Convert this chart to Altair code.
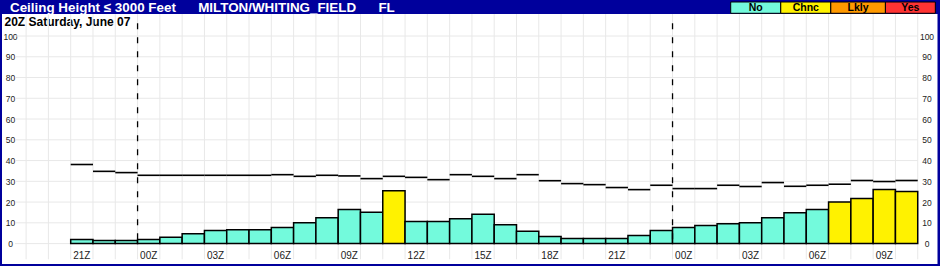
import altair as alt
import pandas as pd

# ---------------- data ----------------
hours = ["21Z", "22Z", "23Z",
         "00Z", "01Z", "02Z", "03Z", "04Z", "05Z", "06Z", "07Z", "08Z", "09Z", "10Z", "11Z",
         "12Z", "13Z", "14Z", "15Z", "16Z", "17Z", "18Z", "19Z", "20Z", "21Z", "22Z", "23Z",
         "00Z", "01Z", "02Z", "03Z", "04Z", "05Z", "06Z", "07Z", "08Z", "09Z", "10Z"]

prob = [2.0, 1.5, 1.5,
        2.0, 3.0, 4.8, 6.3, 6.7, 6.7, 7.7, 10.1, 12.5, 16.4, 15.1, 25.5,
        10.7, 10.7, 12.0, 14.1, 9.1, 5.9, 3.4, 2.4, 2.4, 2.4, 3.9, 6.3,
        7.7, 8.7, 9.6, 10.1, 12.5, 14.9, 16.4, 20.0, 21.7, 26.0, 25.1]

category = ["No", "No", "No",
            "No", "No", "No", "No", "No", "No", "No", "No", "No", "No", "No", "Chnc",
            "No", "No", "No", "No", "No", "No", "No", "No", "No", "No", "No", "No",
            "No", "No", "No", "No", "No", "No", "No", "Chnc", "Chnc", "Chnc", "Chnc"]

climo = [38.1, 34.8, 34.2,
         32.9, 32.9, 32.9, 32.9, 32.9, 32.9, 33.2, 32.4, 32.9, 32.6, 31.3, 32.4,
         31.9, 30.8, 33.2, 32.4, 31.3, 33.2, 30.3, 28.9, 28.4, 27.0, 26.0, 28.1,
         26.5, 26.5, 28.1, 27.5, 29.4, 27.6, 28.1, 28.6, 30.4, 29.9, 30.4]

legend_cats = ["No", "Chnc", "Lkly", "Yes"]
legend_colors = ["#73FADC", "#FFF200", "#FF9900", "#FF3333"]

y_ticks = [0, 10, 20, 30, 40, 50, 60, 70, 80, 90, 100]

NB = "\u00a0"
title_text = "Ceiling Height \u2264 3000 Feet" + NB * 6 + "MILTON/WHITING_FIELD" + NB * 6 + "FL"
subtitle_text = "20Z Saturday, June 07"

# ---------------- layout constants ----------------
W, H = 935.5, 250
X_DOM = [-3.082, 38.887]
Y_DOM = [-9.83, 110.6]
GRID_BOTTOM = -7.56
DASH_TOP = 106.1
HGRID_X = [-2.5, 38]
XLABEL_Y = -5.97
LABEL_EVERY = 3
LEG_EDGES = [29.61, 31.855, 34.10, 36.55, 38.79]
LEG_Y = [116.38, 110.94]
LEG_TEXT_Y = 113.5
FONT = "Liberation Sans, Arial, sans-serif"
BLUE = "#00009C"
GRID = "#E8E8E8"

n = len(hours)
df = pd.DataFrame({
    "slot": list(range(n)),
    "end": [i + 1 for i in range(n)],
    "hour": hours,
    "prob": prob,
    "cat": category,
    "climo": climo,
    "zero": [0] * n,
})
df["mid"] = df["slot"] + 0.5

xs = alt.Scale(domain=X_DOM, nice=False, zero=False)
ys = alt.Scale(domain=Y_DOM, nice=False, zero=False)
color_scale = alt.Scale(domain=legend_cats, range=legend_colors)

# vertical grid
vg = pd.DataFrame({"x": list(range(-2, n + 1)), "lo": GRID_BOTTOM, "hi": Y_DOM[1]})
vgrid = alt.Chart(vg).mark_rule(color=GRID, strokeWidth=1).encode(
    x=alt.X("x:Q", scale=xs, axis=None),
    y=alt.Y("lo:Q", scale=ys, axis=None),
    y2="hi:Q",
)

# horizontal grid + left axis (its title carries the date line)
hg = pd.DataFrame({"y": y_ticks, "x0": HGRID_X[0], "x1": HGRID_X[1]})
hgrid = alt.Chart(hg).mark_rule(color=GRID, strokeWidth=1).encode(
    x=alt.X("x0:Q", scale=xs, axis=None),
    x2="x1:Q",
    y=alt.Y("y:Q", scale=ys, axis=alt.Axis(
        orient="left", values=y_ticks, title=subtitle_text, labelAlign="center",
        labelBaseline="middle", labelPadding=-8, labelFontSize=8.5,
        titleAngle=0, titleX=2, titleY=11.9, titleAlign="left", titleBaseline="alphabetic",
        titleFont=FONT, titleFontSize=12, titleFontWeight="bold", titleColor="black")),
)
# right axis
hgrid_r = alt.Chart(hg).mark_rule(opacity=0).encode(
    x=alt.X("x0:Q", scale=xs, axis=None),
    x2="x1:Q",
    y=alt.Y("y:Q", scale=ys, axis=alt.Axis(
        orient="right", values=y_ticks, title=None, labelAlign="center",
        labelBaseline="middle", labelPadding=-11, labelFontSize=8.5)),
)

bars = alt.Chart(df).mark_rect(stroke="black", strokeWidth=1.5).encode(
    x=alt.X("slot:Q", scale=xs, axis=None),
    x2="end:Q",
    y=alt.Y("zero:Q", scale=ys, axis=None),
    y2="prob:Q",
    color=alt.Color("cat:N", scale=color_scale, legend=None),
)

line = alt.Chart(df).mark_rule(color="black", strokeWidth=1.6).encode(
    x=alt.X("slot:Q", scale=xs, axis=None),
    x2="end:Q",
    y=alt.Y("climo:Q", scale=ys, axis=None),
)

dd = df[df["hour"] == "00Z"].assign(top=DASH_TOP)
dashes = alt.Chart(dd).mark_rule(color="black", strokeWidth=1.3, strokeDash=[6, 8]).encode(
    x=alt.X("slot:Q", scale=xs, axis=None),
    y=alt.Y("top:Q", scale=ys, axis=None),
    y2="zero:Q",
)

xl = df[df["slot"] % LABEL_EVERY == 0].assign(ly=XLABEL_Y)
xlabels = alt.Chart(xl).mark_text(font=FONT, fontSize=10, color="#222",
                                  baseline="middle", align="center").encode(
    x=alt.X("mid:Q", scale=xs, axis=None),
    y=alt.Y("ly:Q", scale=ys, axis=None),
    text="hour:N",
)

lg = pd.DataFrame({
    "cat": legend_cats,
    "x0": LEG_EDGES[:-1],
    "x1": LEG_EDGES[1:],
    "y0": LEG_Y[0],
    "y1": LEG_Y[1],
})
lg["xm"] = (lg["x0"] + lg["x1"]) / 2
lg["ym"] = LEG_TEXT_Y
leg_rect = alt.Chart(lg).mark_rect(stroke="black", strokeWidth=1).encode(
    x=alt.X("x0:Q", scale=xs, axis=None),
    x2="x1:Q",
    y=alt.Y("y0:Q", scale=ys, axis=None),
    y2="y1:Q",
    color=alt.Color("cat:N", scale=color_scale, legend=None),
)
leg_text = alt.Chart(lg).mark_text(font=FONT, fontSize=10.5, fontWeight="bold", color="black",
                                   baseline="middle", align="center").encode(
    x=alt.X("xm:Q", scale=xs, axis=None),
    y=alt.Y("ym:Q", scale=ys, axis=None),
    text="cat:N",
)

chart = alt.layer(vgrid, hgrid, hgrid_r, bars, line, dashes, xlabels, leg_rect, leg_text).resolve_axis(
    y="independent"
).properties(
    width=W, height=H,
    autosize=alt.AutoSizeParams(type="none"),
    padding={"left": 2, "top": 14, "right": 2.5, "bottom": 2},
    background=BLUE,
    title=alt.Title(title_text, anchor="start", frame="group",
                    font=FONT, fontSize=13.4, fontWeight="bold", color="white",
                    offset=-12.6, dx=8),
).configure_view(fill="white", strokeWidth=0).configure_axis(
    grid=False, domain=False, ticks=False, tickSize=0, labelFont=FONT, labelColor="#222",
    labelFlush=False, labelOverlap=False, labelBound=False,
)

chart.save("out.html", embed_options={"renderer": "svg", "actions": False})
